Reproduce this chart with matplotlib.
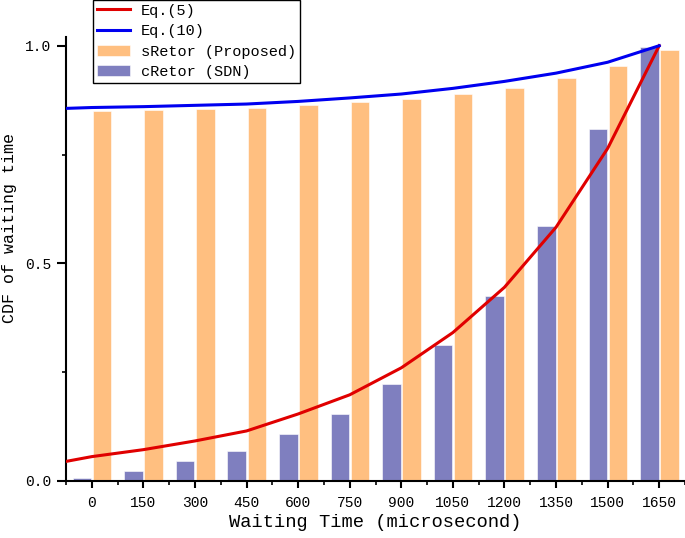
import numpy as np
import matplotlib.pyplot as plt
from matplotlib.ticker import MultipleLocator

# datos
tiempos = [0, 150, 300, 450, 600, 750, 900, 1050, 1200, 1350, 1500, 1650]
sretor = [0.849, 0.852, 0.855, 0.858, 0.863, 0.870, 0.877, 0.888, 0.903, 0.925, 0.953, 0.991]
cretor = [0.008, 0.023, 0.045, 0.070, 0.107, 0.155, 0.223, 0.312, 0.425, 0.585, 0.808, 0.997]

t_linea = [-75, 0, 150, 300, 450, 600, 750, 900, 1050, 1200, 1350, 1500, 1650]
eq5 = [0.045, 0.056, 0.072, 0.092, 0.115, 0.154, 0.198, 0.260, 0.341, 0.445, 0.583, 0.764, 1.0]
eq10 = [0.856, 0.858, 0.860, 0.863, 0.866, 0.872, 0.880, 0.889, 0.902, 0.918, 0.937, 0.962, 1.0]

plt.rcParams['font.family'] = ['Liberation Mono', 'DejaVu Sans Mono']

fig = plt.figure(figsize=(6.85, 5.38), dpi=100)
ax = fig.add_axes([66/685, 1-481/538, 1-66/685, (481-37)/538])

x = np.arange(len(tiempos))
ax.bar(x - 0.19, cretor, 0.36, color='#7f7fbf', edgecolor='white', linewidth=0.4,
       label='cRetor (SDN)', zorder=2)
ax.bar(x + 0.20, sretor, 0.36, color='#ffbf80', edgecolor='white', linewidth=0.4,
       label='sRetor (Proposed)', zorder=2)

xl = np.array(t_linea) / 150.0
ax.plot(xl, eq5, color='#e00000', lw=2.2, label='Eq.(5)', zorder=3)
ax.plot(xl, eq10, color='#0000f0', lw=2.2, label='Eq.(10)', zorder=3)

ax.set_xlim(-0.5, 11.5)
ax.set_ylim(0, 1.02)
ax.set_xticks(x)
ax.set_xticklabels([str(t) for t in tiempos], fontsize=10.5)
ax.xaxis.set_minor_locator(MultipleLocator(0.5))
ax.set_yticks([0, 0.5, 1.0])
ax.set_yticklabels(['0.0', '0.5', '1.0'], fontsize=10.5)
ax.yaxis.set_minor_locator(MultipleLocator(0.25))

for lado in ['top', 'right']:
    ax.spines[lado].set_visible(False)
for lado in ['left', 'bottom']:
    ax.spines[lado].set_linewidth(1.5)

ax.tick_params(axis='x', which='major', direction='out', length=5, width=1.5, pad=6)
ax.tick_params(axis='x', which='minor', direction='out', length=3, width=1.2)
ax.tick_params(axis='y', which='major', direction='out', length=6.5, width=1.5, pad=4)
ax.tick_params(axis='y', which='minor', direction='out', length=3, width=1.2)

ax.set_xlabel('Waiting Time (microsecond)', fontsize=13.5, labelpad=3)
ax.set_ylabel('CDF of waiting time', fontsize=12)
ax.yaxis.label.set_va('center')
ax.yaxis.set_label_coords(-0.092, 0.57)

h, l = ax.get_legend_handles_labels()
orden = [0, 1, 3, 2]
leg = fig.legend([h[i] for i in orden], [l[i] for i in orden],
                 loc='upper left', bbox_to_anchor=(93/685, 1.0), fontsize=11,
                 frameon=True, fancybox=False, framealpha=1, edgecolor='black',
                 borderaxespad=0, borderpad=0.25, labelspacing=0.42,
                 handlelength=2.2, handletextpad=0.7)
leg.get_frame().set_linewidth(1.0)

fig.savefig('out.png', dpi=100)
